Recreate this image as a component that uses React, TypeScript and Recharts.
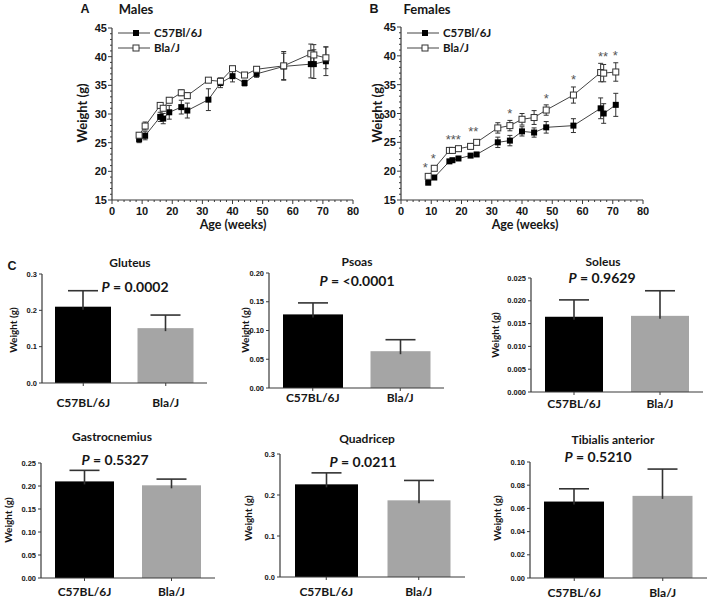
import React from 'react';
import { ComposedChart, Line, Scatter, XAxis, YAxis, ErrorBar, BarChart, Bar, Cell } from 'recharts';

// ---------------- data ----------------
const ages = [9, 11, 16, 17, 19, 23, 25, 32, 36, 40, 44, 48, 57, 66, 67, 71];

const maleC57 = [25.6, 26.2, 29.5, 29.2, 30.3, 31.2, 30.6, 32.5, 35.4, 36.6, 35.4, 37.0, 38.3, 38.7, 38.7, 39.2];
const maleC57Err = [0.6, 0.7, 0.8, 0.9, 1.2, 1.2, 1.3, 1.9, 0.8, 1.0, 0.5, 0.6, 2.3, 2.4, 2.5, 2.5];
const maleBla = [26.3, 27.9, 31.5, 31.0, 32.4, 33.7, 33.2, 35.9, 35.7, 37.9, 36.8, 37.8, 38.4, 40.5, 40.3, 39.8];
const maleBlaErr = [0.4, 0.7, 0.4, 0.4, 0.4, 0.5, 0.5, 0.3, 0.6, 0.4, 0.4, 0.4, 2.5, 1.7, 1.8, 1.9];

const femaleC57 = [18.0, 18.9, 21.7, 21.9, 22.2, 22.7, 22.9, 25.0, 25.3, 26.9, 26.7, 27.6, 27.9, 30.9, 30.0, 31.5];
const femaleC57Err = [0.2, 0.2, 0.3, 0.2, 0.2, 0.3, 0.3, 0.9, 0.9, 0.8, 0.8, 1.0, 1.2, 1.8, 1.7, 2.0];
const femaleBla = [19.1, 20.5, 23.6, 23.6, 23.9, 24.3, 25.0, 27.5, 27.9, 29.0, 29.3, 30.6, 33.2, 37.1, 37.0, 37.2];
const femaleBlaErr = [0.3, 0.4, 0.3, 0.3, 0.3, 0.4, 0.4, 0.9, 0.9, 1.0, 1.2, 0.9, 1.4, 1.6, 1.5, 1.6];

const starAges = [8, 10.7, 17.3, 23.9, 36, 48, 57, 66.8, 70.8];
const starWeights = [21, 22.6, 26, 27.3, 30.5, 33.1, 36.3, 40.4, 40.5];
const starTexts = ['*', '*', '***', '**', '*', '*', '*', '**', '*'];

const legendNames = ['C57Bl/6J', 'Bla/J'];
const ageMajorTicks = [0, 10, 20, 30, 40, 50, 60, 70, 80];
const weightMajorTicks = [15, 20, 25, 30, 35, 40, 45];

const strains = ['C57BL/6J', 'Bla/J'];
const muscleNames = ['Gluteus', 'Psoas', 'Soleus', 'Gastrocnemius', 'Quadricep', 'Tibialis anterior'];
const pValues = ['0.0002', '<0.0001', '0.9629', '0.5327', '0.0211', '0.5210'];

const gluteusMean = [0.21, 0.151];
const gluteusSem = [0.044, 0.036];
const psoasMean = [0.128, 0.064];
const psoasSem = [0.02, 0.02];
const soleusMean = [0.0165, 0.0167];
const soleusSem = [0.0037, 0.0055];
const gastrocMean = [0.21, 0.2015];
const gastrocSem = [0.024, 0.0135];
const quadMean = [0.226, 0.187];
const quadSem = [0.028, 0.0485];
const tibialisMean = [0.0659, 0.0708];
const tibialisSem = [0.011, 0.0231];

const gluteusTicks = [0, 0.1, 0.2, 0.3];
const psoasTicks = [0, 0.05, 0.1, 0.15, 0.2];
const soleusTicks = [0, 0.005, 0.01, 0.015, 0.02, 0.025];
const gastrocTicks = [0, 0.05, 0.1, 0.15, 0.2, 0.25];
const quadTicks = [0, 0.1, 0.2, 0.3];
const tibialisTicks = [0, 0.02, 0.04, 0.06, 0.08, 0.1];

// ---------------- styles ----------------
const LATO = 'Lato, "Open Sans", sans-serif';
const ARIAL = '"Liberation Sans", Arial, sans-serif';
const AX = '#3a3a3a';
const LINE = '#444';
const TXT = '#161616';
const BAR_COLORS = ['#000000', '#a5a5a5'];

function fillRange(majors: number[], step: number) {
  const out: number[] = [];
  const lo = majors[0];
  const hi = majors[majors.length - 1];
  for (let v = lo; v <= hi + 1e-9; v += step) out.push(Math.round(v * 100) / 100);
  return out;
}

const Txt = ({ x, y, size, font = LATO, rotate, children, color = TXT }: any) => (
  <div
    style={{
      position: 'absolute',
      left: x,
      top: y,
      transform: `translate(-50%,-50%)${rotate ? ` rotate(${rotate}deg)` : ''}`,
      fontSize: size,
      fontFamily: font,
      fontWeight: 700,
      whiteSpace: 'nowrap',
      lineHeight: 1,
      color,
    }}
  >
    {children}
  </div>
);

const WeightTick = (p: any) => {
  const v = p.payload.value;
  const major = Math.abs(v % 5) < 1e-9;
  return (
    <g>
      <line x1={p.x} x2={p.x - (major ? 4 : 2)} y1={p.y} y2={p.y} stroke={AX} strokeWidth={1} />
      {major && (
        <text x={p.x - 5} y={p.y + 4} textAnchor="end" fontFamily={ARIAL} fontWeight={700} fontSize={11} fill={TXT}>
          {v}
        </text>
      )}
    </g>
  );
};

const AgeTick = (p: any) => {
  const v = p.payload.value;
  const major = Math.abs(v % 10) < 1e-9;
  return (
    <g>
      <line x1={p.x} x2={p.x} y1={p.y} y2={p.y + (major ? 4 : 2)} stroke={AX} strokeWidth={1} />
      {major && (
        <text x={p.x} y={p.y + 15} textAnchor="middle" fontFamily={ARIAL} fontWeight={700} fontSize={11} fill={TXT}>
          {v}
        </text>
      )}
    </g>
  );
};

const FilledSquare = (p: any) =>
  p.cx == null ? <g key={`f${p.index}`} /> : (
    <rect key={`f${p.index}`} x={p.cx - 3} y={p.cy - 3} width={6} height={6} fill="#000" />
  );
const OpenSquare = (p: any) =>
  p.cx == null ? <g key={`o${p.index}`} /> : (
    <rect key={`o${p.index}`} x={p.cx - 3} y={p.cy - 3} width={6} height={6} fill="#fff" stroke="#333" strokeWidth={1} />
  );

const StarShape = (p: any) => (
  <text x={p.cx} y={p.cy + 7} textAnchor="middle" fontSize={13} fontFamily={ARIAL} fill="#555">
    {p.payload.t}
  </text>
);

function SeriesKey({ left, top }: any) {
  return (
    <svg style={{ position: 'absolute', left, top }} width={100} height={32}>
      {legendNames.map((n, i) => {
        const y = 7 + i * 15;
        return (
          <g key={n}>
            <line x1={0} x2={32} y1={y} y2={y} stroke={LINE} strokeWidth={1} />
            {i === 0 ? (
              <rect x={15} y={y - 3} width={6} height={6} fill="#000" />
            ) : (
              <rect x={15} y={y - 3} width={6} height={6} fill="#fff" stroke="#333" />
            )}
            <text x={36} y={y + 4} fontFamily={LATO} fontWeight={700} fontSize={11.5} fill={TXT}>
              {n}
            </text>
          </g>
        );
      })}
    </svg>
  );
}

function GrowthPanel({ left, plotLeft, plotRight, plotTop, plotBottom, c57, c57Err, bla, blaErr, withStars }: any) {
  const W = plotRight - left + 17;
  const H = plotBottom + 30;
  const data = ages.map((a, i) => ({ age: a, c57: c57[i], c57Err: c57Err[i], bla: bla[i], blaErr: blaErr[i] }));
  const stars = starAges.map((a, i) => ({ age: a, w: starWeights[i], t: starTexts[i] }));
  return (
    <div style={{ position: 'absolute', left, top: 0 }}>
      <ComposedChart
        width={W}
        height={H}
        data={data}
        margin={{ top: plotTop, right: W - (plotRight - left), bottom: 0, left: 0 }}
      >
        <XAxis
          type="number"
          dataKey="age"
          domain={[0, 80]}
          ticks={fillRange(ageMajorTicks, 2)}
          interval={0}
          tickSize={0}
          tickMargin={0}
          tickLine={false}
          axisLine={{ stroke: AX, strokeWidth: 1.2 }}
          tick={(p: any) => <AgeTick {...p} />}
          height={30}
        />
        <YAxis
          type="number"
          domain={[15, 45]}
          ticks={fillRange(weightMajorTicks, 1)}
          interval={0}
          tickSize={0}
          tickMargin={0}
          tickLine={false}
          axisLine={{ stroke: AX, strokeWidth: 1.2 }}
          tick={(p: any) => <WeightTick {...p} />}
          width={plotLeft - left}
        />
        <Line dataKey="c57" stroke={LINE} strokeWidth={1} dot={FilledSquare} activeDot={false} isAnimationActive={false}>
          <ErrorBar dataKey="c57Err" width={2.5} stroke="#333" strokeWidth={1} direction="y" />
        </Line>
        <Line dataKey="bla" stroke={LINE} strokeWidth={1} dot={OpenSquare} activeDot={false} isAnimationActive={false}>
          <ErrorBar dataKey="blaErr" width={2.5} stroke="#333" strokeWidth={1} direction="y" />
        </Line>
        {withStars && <Scatter data={stars} dataKey="w" shape={(p: any) => <StarShape {...p} />} isAnimationActive={false} />}
      </ComposedChart>
    </div>
  );
}

function MusclePanel({ mean, sem, ticks, decimals, x0, x1, yTop, yBottom, barSize, labelGap }: any) {
  const left = x0 - 40;
  const top = yTop - 10;
  const W = x1 - left + 4;
  const H = yBottom - top + 26;
  const data = strains.map((s, i) => ({ strain: s, mean: mean[i], sem: sem[i] }));
  const BarShape = (p: any) => {
    const pxPerUnit = p.height / p.payload.mean;
    const errTop = p.y - p.payload.sem * pxPerUnit;
    const cx = p.x + p.width / 2;
    return (
      <g>
        <rect x={p.x} y={p.y} width={p.width} height={p.height} fill={p.fill} />
        <line x1={cx} x2={cx} y1={p.y + 3} y2={errTop} stroke="#333" strokeWidth={1.6} />
        <line x1={cx - 15} x2={cx + 15} y1={errTop} y2={errTop} stroke="#333" strokeWidth={1.6} />
      </g>
    );
  };
  return (
    <div style={{ position: 'absolute', left, top }}>
      <BarChart width={W} height={H} data={data} margin={{ top: 10, right: 4, bottom: 0, left: 0 }}>
        <XAxis
          dataKey="strain"
          interval={0}
          tickSize={3}
          tickMargin={labelGap}
          axisLine={{ stroke: AX, strokeWidth: 1.2 }}
          tickLine={{ stroke: AX }}
          tick={{ fontFamily: LATO, fontWeight: 700, fontSize: 12, fill: TXT }}
          height={26}
        />
        <YAxis
          type="number"
          domain={[0, ticks[ticks.length - 1]]}
          ticks={ticks}
          interval={0}
          tickFormatter={(v: number) => v.toFixed(decimals)}
          width={40}
          tickSize={3}
          tickMargin={2}
          axisLine={{ stroke: AX, strokeWidth: 1.2 }}
          tickLine={{ stroke: AX }}
          tick={{ fontFamily: ARIAL, fontWeight: 700, fontSize: 7.5, fill: TXT }}
        />
        <Bar dataKey="mean" barSize={barSize} isAnimationActive={false} shape={BarShape}>
          {data.map((d, i) => (
            <Cell key={d.strain} fill={BAR_COLORS[i]} />
          ))}
        </Bar>
      </BarChart>
    </div>
  );
}

const PText = ({ x, y, value }: any) => (
  <Txt x={x} y={y} size={14}>
    <i>P</i> = {value}
  </Txt>
);

export default function App() {
  return (
    <div style={{ position: 'absolute', left: 0, top: 0, width: 709, height: 600, background: '#fff', overflow: 'hidden' }}>
      {/* Panel A */}
      <GrowthPanel left={60} plotLeft={112} plotRight={353} plotTop={28} plotBottom={200}
        c57={maleC57} c57Err={maleC57Err} bla={maleBla} blaErr={maleBlaErr} withStars={false} />
      <SeriesKey left={118} top={26} />
      <Txt x={85} y={9} size={12.5} font={ARIAL}>A</Txt>
      <Txt x={136} y={9} size={13}>Males</Txt>
      <Txt x={82} y={113} size={13} rotate={-90}>Weight (g)</Txt>
      <Txt x={233} y={225} size={12.5}>Age (weeks)</Txt>

      {/* Panel B */}
      <GrowthPanel left={370} plotLeft={401} plotRight={643} plotTop={27} plotBottom={200}
        c57={femaleC57} c57Err={femaleC57Err} bla={femaleBla} blaErr={femaleBlaErr} withStars={true} />
      <SeriesKey left={407} top={26} />
      <Txt x={374} y={9} size={12.5} font={ARIAL}>B</Txt>
      <Txt x={427} y={9} size={13}>Females</Txt>
      <Txt x={377} y={113} size={13} rotate={-90}>Weight (g)</Txt>
      <Txt x={525} y={225} size={12.5}>Age (weeks)</Txt>

      {/* Panel C */}
      <Txt x={12} y={266} size={12.5} font={ARIAL}>C</Txt>

      <MusclePanel mean={gluteusMean} sem={gluteusSem} ticks={gluteusTicks} decimals={1}
        x0={42} x1={207} yTop={274} yBottom={383} barSize={56} labelGap={12} />
      <Txt x={130} y={263} size={12}>{muscleNames[0]}</Txt>
      <PText x={135} y={287} value={pValues[0]} />
      <Txt x={13} y={330} size={10} rotate={-90}>Weight (g)</Txt>

      <MusclePanel mean={psoasMean} sem={psoasSem} ticks={psoasTicks} decimals={2}
        x0={269} x1={444} yTop={273} yBottom={388} barSize={60} labelGap={2} />
      <Txt x={357} y={262} size={12}>{muscleNames[1]}</Txt>
      <PText x={357} y={281} value={pValues[1]} />
      <Txt x={245} y={330} size={10} rotate={-90}>Weight (g)</Txt>

      <MusclePanel mean={soleusMean} sem={soleusSem} ticks={soleusTicks} decimals={3}
        x0={531} x1={703} yTop={278} yBottom={392} barSize={58} labelGap={4} />
      <Txt x={603} y={262} size={12}>{muscleNames[2]}</Txt>
      <PText x={602} y={278} value={pValues[2]} />
      <Txt x={495} y={335} size={10} rotate={-90}>Weight (g)</Txt>

      <MusclePanel mean={gastrocMean} sem={gastrocSem} ticks={gastrocTicks} decimals={2}
        x0={41} x1={215} yTop={463} yBottom={578} barSize={59} labelGap={6} />
      <Txt x={112} y={437} size={12}>{muscleNames[3]}</Txt>
      <PText x={115} y={460} value={pValues[3]} />
      <Txt x={8} y={520} size={10} rotate={-90}>Weight (g)</Txt>

      <MusclePanel mean={quadMean} sem={quadSem} ticks={quadTicks} decimals={1}
        x0={280} x1={465} yTop={454} yBottom={577} barSize={63} labelGap={7} />
      <Txt x={367} y={439} size={12}>{muscleNames[4]}</Txt>
      <PText x={363} y={462} value={pValues[4]} />
      <Txt x={248} y={518} size={10} rotate={-90}>Weight (g)</Txt>

      <MusclePanel mean={tibialisMean} sem={tibialisSem} ticks={tibialisTicks} decimals={2}
        x0={530} x1={707} yTop={462} yBottom={578} barSize={60} labelGap={7} />
      <Txt x={613} y={440} size={12}>{muscleNames[5]}</Txt>
      <PText x={598} y={457} value={pValues[5]} />
      <Txt x={497} y={518} size={10} rotate={-90}>Weight (g)</Txt>
    </div>
  );
}
